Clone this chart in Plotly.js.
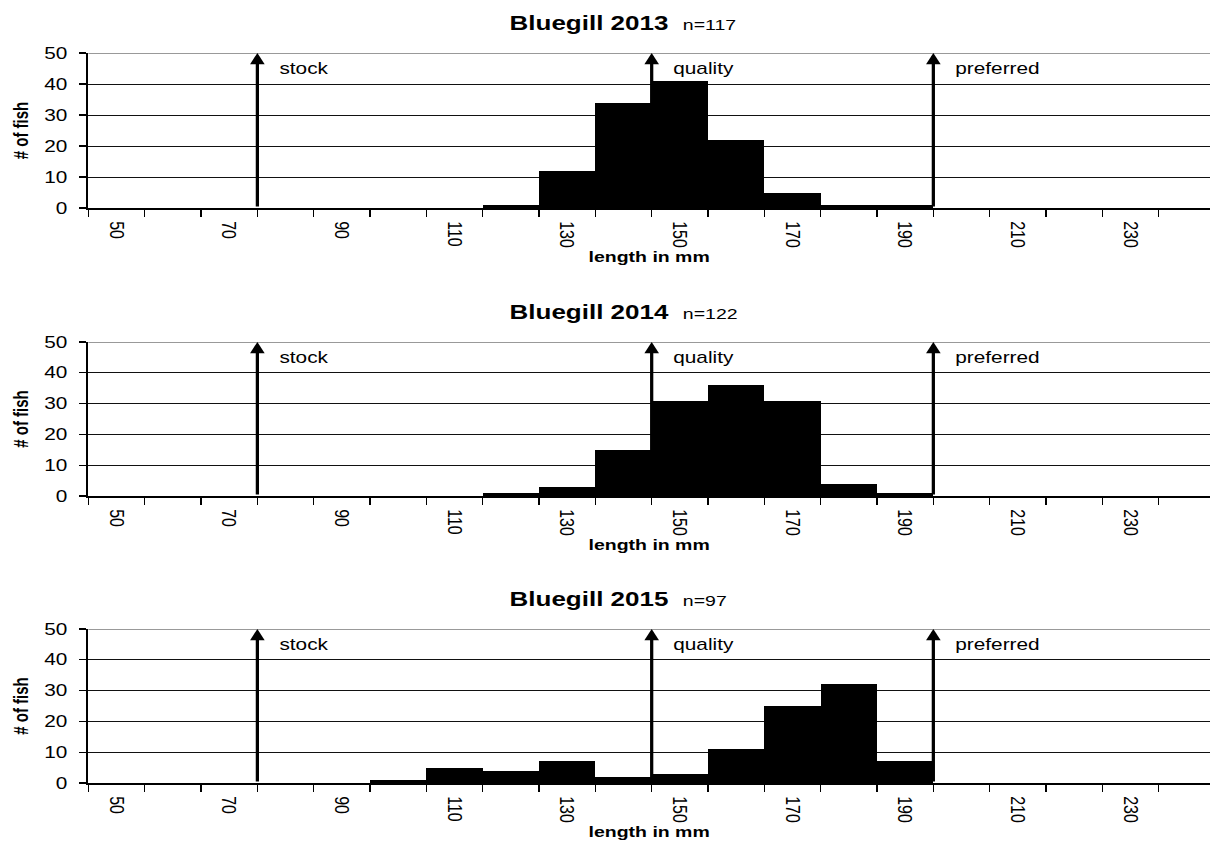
<!DOCTYPE html>
<html>
<head>
<meta charset="utf-8">
<script src="https://cdn.plot.ly/plotly-3.0.1.min.js"></script>
<style>
  html, body { margin: 0; padding: 0; overflow: hidden; background: #fff; }
  #wrap { width: 931px; height: 842px; transform-origin: 0 0; }
</style>
</head>
<body>
<div id="wrap"><div id="chart" style="width:931px;height:842px;"></div></div>
<script>
// ---------------- data ----------------
const bins = [50, 60, 70, 80, 90, 100, 110, 120, 130, 140, 150, 160, 170, 180, 190, 200, 210, 220, 230, 240];
const xTickLabels = [50, 70, 90, 110, 130, 150, 170, 190, 210, 230];
const years = ["2013", "2014", "2015"];
const sampleSizes = [117, 122, 97];
const count2013 = [0, 0, 0, 0, 0, 0, 0, 1, 12, 34, 41, 22, 5, 1, 1, 0, 0, 0, 0, 0];
const count2014 = [0, 0, 0, 0, 0, 0, 0, 1, 3, 15, 31, 36, 31, 4, 1, 0, 0, 0, 0, 0];
const count2015 = [0, 0, 0, 0, 0, 1, 5, 4, 7, 2, 3, 11, 25, 32, 7, 0, 0, 0, 0, 0];
const thresholdNames = ["stock", "quality", "preferred"];
const thresholdLengths = [80, 150, 200];   // mm; arrow drawn at the left edge of that bin
const yTickVals = [0, 10, 20, 30, 40, 50];

// ---------------- geometry ----------------
const W = 931, H = 842;
const SX = 1210 / W;          // horizontal stretch of the original chart
const ML = 89 / SX;           // left margin in layout px
const binWidth = 10;
const xMin = bins[0] - binWidth / 2;
const xMax = xMin + (1210 - 89) / 5.63;
const panelTops = [53, 342, 629];
const panelBottoms = [208, 496, 783];
const FONT = "Liberation Sans, Arial, Helvetica, sans-serif";

document.getElementById('wrap').style.transform = 'scaleX(' + SX + ')';

const paperX = refX => (refX / SX - ML) / (W - ML);
const paperY = refY => 1 - refY / H;

const counts = [count2013, count2014, count2015];
const data = [];
const layout = {
  width: W, height: H,
  margin: { l: ML, r: 0, t: 0, b: 0, pad: 0 },
  paper_bgcolor: '#fff', plot_bgcolor: '#fff',
  showlegend: false,
  bargap: 0,
  font: { family: FONT, color: '#000', size: 16 },
  annotations: [], shapes: []
};

counts.forEach((c, i) => {
  const n = i === 0 ? '' : String(i + 1);
  const xa = 'x' + n, ya = 'y' + n;
  data.push({
    type: 'bar', x: bins, y: c, width: binWidth,
    xaxis: xa, yaxis: ya,
    marker: { color: '#000', line: { width: 0 } },
    hoverinfo: 'x+y'
  });
  layout['xaxis' + n] = {
    anchor: ya, domain: [0, 1], range: [xMin, xMax],
    tickmode: 'array', tickvals: xTickLabels, ticktext: xTickLabels.map(String),
    tickangle: 90, ticks: '', ticklabelstandoff: 8,
    tickfont: { size: 16, family: FONT, color: '#000' },
    minor: { tickmode: 'linear', tick0: xMin, dtick: binWidth, ticks: 'outside', ticklen: 7, tickwidth: 1.2, tickcolor: '#000', showgrid: false },
    showgrid: false, zeroline: false,
    showline: true, linecolor: '#000', linewidth: 2,
    title: { text: '<b>length in mm</b>', font: { size: 15, family: FONT, color: '#000' }, standoff: 3 },
    fixedrange: true
  };
  layout['yaxis' + n] = {
    anchor: xa, domain: [paperY(panelBottoms[i]), paperY(panelTops[i])],
    range: [0, 50], tickmode: 'array', tickvals: yTickVals,
    ticks: 'outside', ticklen: 5.4, tickwidth: 1.2, tickcolor: '#000',
    ticklabelstandoff: 6,
    tickfont: { size: 16, family: FONT, color: '#000' },
    showgrid: true, gridcolor: '#111', gridwidth: 1,
    zeroline: false, showline: true, linecolor: '#000', linewidth: 1.5,
    title: { text: '<b># of fish</b>', font: { size: 15, family: FONT, color: '#000' }, standoff: 8 },
    fixedrange: true
  };
  // gray top border line at y = 50
  layout.shapes.push({
    type: 'line', xref: xa + ' domain', yref: ya, x0: 0, x1: 1, y0: 50, y1: 50,
    line: { color: '#999', width: 2 }
  });
  // panel title
  layout.annotations.push({
    xref: 'paper', yref: 'paper', x: paperX(507), y: paperY(panelTops[i] - 30),
    xanchor: 'left', yanchor: 'middle', showarrow: false,
    text: '<b>Bluegill ' + years[i] + '</b>\u00a0\u00a0<span style="font-size:15px">n=' + sampleSizes[i] + '</span>',
    font: { size: 20, family: FONT, color: '#000' }
  });
  // threshold arrows + labels
  thresholdLengths.forEach((len, k) => {
    const xPos = len - binWidth / 2;
    layout.annotations.push({
      xref: xa, yref: ya, axref: xa, ayref: ya,
      x: xPos, y: 50, ax: xPos, ay: 0,
      text: '', showarrow: true, arrowhead: 2, arrowsize: 0.9, arrowwidth: 2.5,
      arrowcolor: '#000', standoff: 0, startstandoff: 0
    });
    layout.annotations.push({
      xref: xa, yref: ya, x: xPos, y: 50, xshift: 15, yshift: -15,
      xanchor: 'left', yanchor: 'middle', showarrow: false,
      text: thresholdNames[k],
      font: { size: 16, family: FONT, color: '#000' }
    });
  });
});

Plotly.newPlot('chart', data, layout, { displayModeBar: false, staticPlot: true });
</script>
</body>
</html>
